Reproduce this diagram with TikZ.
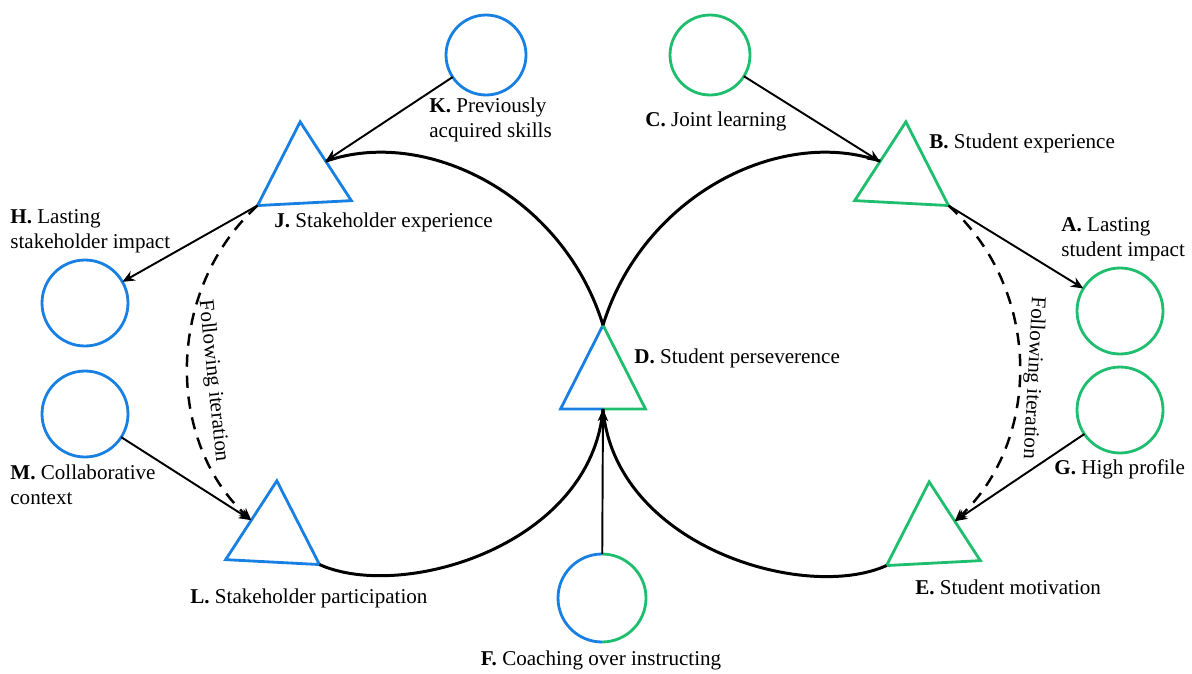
\documentclass[tikz,border=0pt]{standalone}
\usepackage{fontspec}
\setmainfont{Liberation Serif}
\usepackage{xcolor}
\usetikzlibrary{shapes.geometric,arrows.meta,positioning}

\definecolor{stakeblue}{RGB}{24,128,226}
\definecolor{studgreen}{RGB}{30,190,110}

\tikzset{
  tri/.style={regular polygon, regular polygon sides=3, minimum size=2.17cm, inner sep=0pt, outer sep=0pt, line width=1.6pt},
  ring/.style={circle, minimum size=1.72cm, inner sep=0pt, outer sep=0pt, line width=1.6pt},
  cycleline/.style={line width=1.7pt},
  link/.style={line width=1.1pt, -{Stealth[length=7pt,width=6pt]}},
  iter/.style={line width=1.4pt, dash pattern=on 7pt off 5pt, -{Stealth[length=7pt,width=6pt]}},
  lbl/.style={font=\fontsize{12}{14}\selectfont, inner sep=0pt, align=left}
}

\begin{document}
\begin{tikzpicture}[x=0.02cm, y=-0.02cm]
\useasboundingbox (0,0) rectangle (1192,673);
\node [tri, draw=stakeblue, rotate=3] (J) at (303,176) {};
\node [tri, draw=studgreen, rotate=-3] (B) at (903,176) {};
\node [tri, draw=stakeblue, rotate=-3] (L) at (274,535) {};
\node [tri, draw=studgreen, rotate=3] (E) at (932,536) {};
\node [tri, minimum size=1.96cm, yscale=1.14] (D) at (603,381) {};
\draw [stakeblue, line width=1.6pt] (D.side 2) -- (D.corner 2) -- (D.corner 1);
\draw [studgreen, line width=1.6pt] (D.corner 1) -- (D.corner 3) -- (D.side 2);
\node [ring, draw=stakeblue, minimum size=1.6cm] (K) at (486,55) {};
\node [ring, draw=studgreen, minimum size=1.6cm] (C) at (710,55) {};
\node [ring, draw=stakeblue] (H) at (85,303) {};
\node [ring, draw=stakeblue] (M) at (85,414) {};
\node [ring, draw=studgreen] (A) at (1120,311) {};
\node [ring, draw=studgreen] (G) at (1120,410) {};
\node [ring, minimum size=1.76cm] (F) at (602,598) {};
\draw [stakeblue, line width=1.6pt] (F.north) arc[start angle=90, end angle=270, radius=0.88cm];
\draw [studgreen, line width=1.6pt] (F.south) arc[start angle=270, end angle=450, radius=0.88cm];
\draw [cycleline] (D.corner 1) .. controls +(-40,-130) and +(100,-35) .. (J.side 3);
\draw [cycleline] (D.corner 1) .. controls +(40,-130) and +(-100,-35) .. (B.side 1);
\draw [cycleline] (D.side 2) .. controls +(-12,137) and +(82,37) .. (L.corner 3);
\draw [cycleline] (D.side 2) .. controls +(12,137) and +(-82,37) .. (E.corner 2);
\draw [link] (F) -- (D.side 2);
\draw [link] (K) -- (J);
\draw [link] (C) -- (B);
\draw [link] (J.corner 2) -- (H);
\draw [link] (M) -- (L.side 1);
\draw [link] (B.corner 3) -- (A);
\draw [link] (G) -- (E.side 3);
\draw [iter] (J.corner 2) .. controls +(-92,84) and +(-86,-80) .. (L.side 1);
\draw [iter] (B.corner 3) .. controls +(94,84) and +(87,-81) .. (E.side 3);
\node [lbl, rotate=-84] (iterL) at (213,381) {Following iteration};
\node [lbl, rotate=-93] (iterR) at (1033,378) {Following iteration};
\node [lbl, anchor=west] (Klbl) at (429,120) {\textbf{K.} Previously\\acquired skills};
\node [lbl, anchor=west] (Clbl) at (645,121) {\textbf{C.} Joint learning};
\node [lbl, anchor=west] (Blbl) at (929,143) {\textbf{B.} Student experience};
\node [lbl, anchor=west] (Jlbl) at (274,222) {\textbf{J.} Stakeholder experience};
\node [lbl, anchor=west] (Hlbl) at (10,231) {\textbf{H.} Lasting\\stakeholder impact};
\node [lbl, anchor=west] (Albl) at (1061,239) {\textbf{A.} Lasting\\student impact};
\node [lbl, anchor=west] (Dlbl) at (634,358) {\textbf{D.} Student perseverence};
\node [lbl, anchor=west] (Mlbl) at (10,485) {\textbf{M.} Collaborative\\context};
\node [lbl, anchor=west] (Glbl) at (1054,469) {\textbf{G.} High profile};
\node [lbl, anchor=west] (Llbl) at (190,598) {\textbf{L.} Stakeholder participation};
\node [lbl, anchor=west] (Elbl) at (915,587) {\textbf{E.} Student motivation};
\node [lbl] (Flbl) at (601,660) {\textbf{F.} Coaching over instructing};
\end{tikzpicture}
\end{document}
